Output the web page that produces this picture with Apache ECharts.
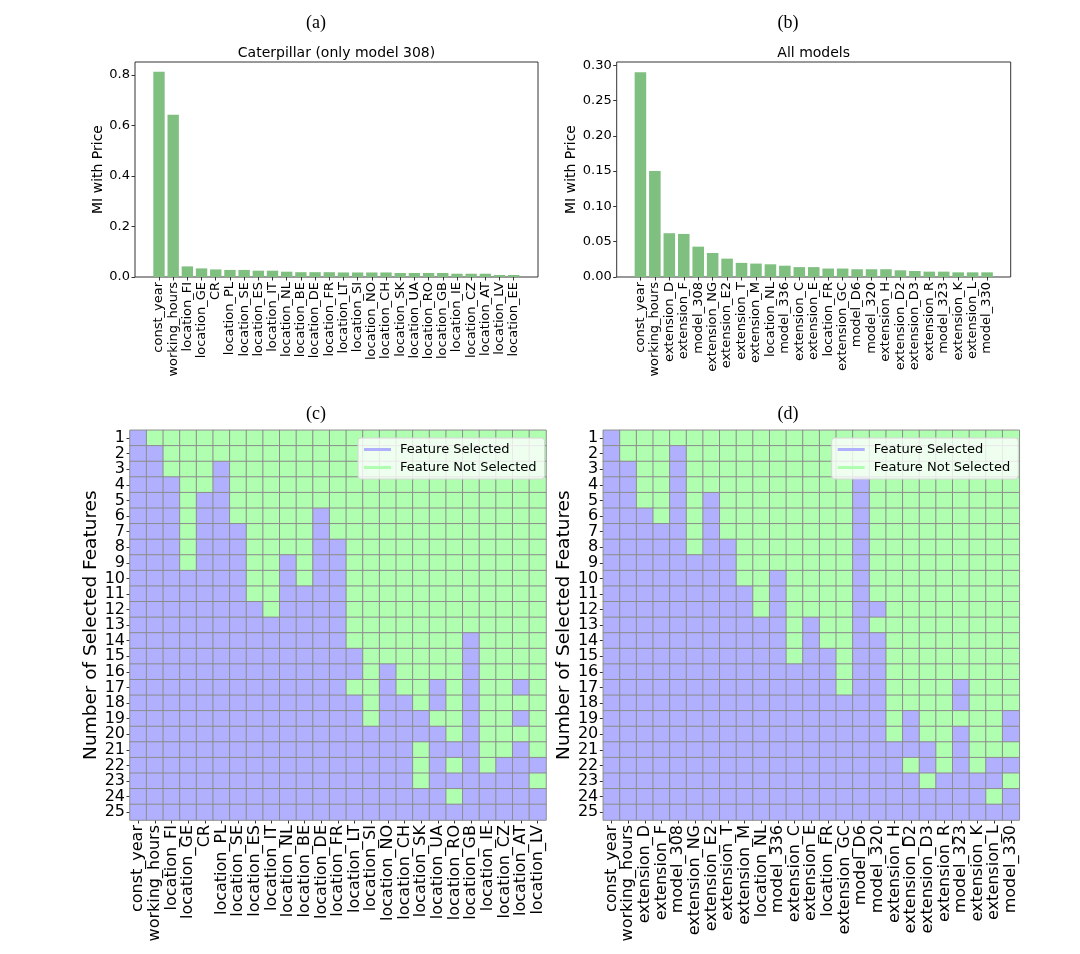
<!DOCTYPE html>
<html>
<head>
<meta charset="utf-8">
<script src="https://cdn.jsdelivr.net/npm/echarts@6/dist/echarts.min.js"></script>
<style>
html,body{margin:0;padding:0;background:#fff;}
#chart{width:1080px;height:954px;}
</style>
</head>
<body>
<div id="chart"></div>
<script>
// ---------- data ----------
const featuresA = ['const_year','working_hours','location_FI','location_GE','CR','location_PL','location_SE','location_ES','location_IT','location_NL','location_BE','location_DE','location_FR','location_LT','location_SI','location_NO','location_CH','location_SK','location_UA','location_RO','location_GB','location_IE','location_CZ','location_AT','location_LV','location_EE'];
const miA = [0.812,0.642,0.042,0.034,0.030,0.028,0.028,0.025,0.025,0.021,0.019,0.019,0.019,0.018,0.018,0.018,0.018,0.016,0.016,0.016,0.016,0.013,0.013,0.013,0.008,0.008];
const yTicksA = [0.0,0.2,0.4,0.6,0.8];

const featuresB = ['const_year','working_hours','extension_D','extension_F','model_308','extension_NG','extension_E2','extension_T','extension_M','location_NL','model_336','extension_C','extension_E','location_FR','extension_GC','model_D6','model_320','extension_H','extension_D2','extension_D3','extension_R','model_323','extension_K','extension_L','model_330'];
const miB = [0.290,0.150,0.062,0.061,0.043,0.034,0.026,0.020,0.019,0.018,0.016,0.014,0.014,0.012,0.012,0.011,0.011,0.011,0.0095,0.0085,0.0076,0.0076,0.0066,0.0066,0.0066];
const yTicksB = [0.00,0.05,0.10,0.15,0.20,0.25,0.30];

const featuresC = ['const_year','working_hours','location_FI','location_GE','CR','location_PL','location_SE','location_ES','location_IT','location_NL','location_BE','location_DE','location_FR','location_LT','location_SI','location_NO','location_CH','location_SK','location_UA','location_RO','location_GB','location_IE','location_CZ','location_AT','location_LV'];
const featuresD = ['const_year','working_hours','extension_D','extension_F','model_308','extension_NG','extension_E2','extension_T','extension_M','location_NL','model_336','extension_C','extension_E','location_FR','extension_GC','model_D6','model_320','extension_H','extension_D2','extension_D3','extension_R','model_323','extension_K','extension_L','model_330'];
const nSelected = ['1','2','3','4','5','6','7','8','9','10','11','12','13','14','15','16','17','18','19','20','21','22','23','24','25'];

// 1 = feature selected, 0 = not selected (row = number of selected features)
const selectedC = [
 '10000 00000 00000 00000 00000',
 '11000 00000 00000 00000 00000',
 '11000 10000 00000 00000 00000',
 '11100 10000 00000 00000 00000',
 '11101 10000 00000 00000 00000',
 '11101 10000 01000 00000 00000',
 '11101 11000 01000 00000 00000',
 '11101 11000 01100 00000 00000',
 '11101 11001 01100 00000 00000',
 '11111 11001 01100 00000 00000',
 '11111 11001 11100 00000 00000',
 '11111 11101 11100 00000 00000',
 '11111 11111 11100 00000 00000',
 '11111 11111 11100 00000 10000',
 '11111 11111 11110 00000 10000',
 '11111 11111 11110 10000 10000',
 '11111 11111 11100 10010 10010',
 '11111 11111 11110 11010 10000',
 '11111 11111 11110 11100 10010',
 '11111 11111 11111 11110 10000',
 '11111 11111 11111 11011 10010',
 '11111 11111 11111 11010 10111',
 '11111 11111 11111 11011 11110',
 '11111 11111 11111 11110 11111',
 '11111 11111 11111 11111 11111'
];
const selectedD = [
 '10000 00000 00000 00000 00000',
 '10001 00000 00000 00000 00000',
 '11001 00000 00000 00000 00000',
 '11001 00000 00000 10000 00000',
 '11001 01000 00000 10000 00000',
 '11101 01000 00000 10000 00000',
 '11111 01000 00000 10000 00000',
 '11111 01100 00000 10000 00000',
 '11111 11100 00000 10000 00000',
 '11111 11100 10000 10000 00000',
 '11111 11110 10000 10000 00000',
 '11111 11110 10000 11000 00000',
 '11111 11111 10100 10000 00000',
 '11111 11111 10100 11000 00000',
 '11111 11111 10110 11000 00000',
 '11111 11111 11110 11000 00000',
 '11111 11111 11110 11000 01000',
 '11111 11111 11111 11000 01000',
 '11111 11111 11111 11010 00001',
 '11111 11111 11111 11010 01001',
 '11111 11111 11111 11111 01000',
 '11111 11111 11111 11101 01011',
 '11111 11111 11111 11110 11110',
 '11111 11111 11111 11111 11101',
 '11111 11111 11111 11111 11111'
];

// ---------- styling ----------
const FONT = 'DejaVu Sans';
const BAR = '#7fbf7f';
const SEL = '#b0b0ff';
const NOTSEL = '#b0ffb0';
const AXC = '#333';

function toCells(rows){
  const out = [];
  rows.forEach((s, r) => {
    s.replace(/\s/g,'').split('').forEach((ch, c) => out.push([c, r, Number(ch)]));
  });
  return out;
}

const chart = echarts.init(document.getElementById('chart'), null, {renderer:'canvas'});

const frameGrid = (l,t,w,h) => ({left:l, top:t, width:w, height:h, show:true, borderColor:AXC, borderWidth:1, backgroundColor:'transparent'});

const barCatAxis = (gi, data) => ({
  type:'category', gridIndex:gi, data:data,
  axisLine:{show:false},
  axisTick:{show:true, alignWithLabel:true, length:3.5, lineStyle:{color:AXC}},
  axisLabel:{rotate:90, interval:0, fontSize:13, fontFamily:FONT, color:'#000', margin:5}
});
const heatCatAxis = (gi, data) => ({
  type:'category', gridIndex:gi, data:data,
  axisLine:{show:false},
  axisTick:{show:true, alignWithLabel:true, length:3.5, lineStyle:{color:AXC}},
  axisLabel:{rotate:90, interval:0, fontSize:16, fontFamily:FONT, color:'#000', margin:5},
  splitLine:{show:false}
});
const heatRowAxis = (gi) => ({
  type:'category', gridIndex:gi, data:nSelected, inverse:true,
  axisLine:{show:false},
  axisTick:{show:true, alignWithLabel:true, length:3.5, lineStyle:{color:AXC}},
  axisLabel:{interval:0, fontSize:16, fontFamily:FONT, color:'#000', margin:5},
  name:'Number of Selected Features', nameLocation:'middle', nameGap:28,
  nameTextStyle:{fontSize:18.5, fontFamily:FONT, color:'#000'}
});

const legendCommon = {
  orient:'vertical', top:438, icon:'rect', itemWidth:27, itemHeight:3, itemGap:5,
  backgroundColor:'rgba(255,255,255,0.8)', borderColor:'#d6d6d6', borderWidth:1, borderRadius:3,
  padding:[5,8,5,6], data:['Feature Selected','Feature Not Selected'],
  textStyle:{fontSize:13, fontFamily:FONT, color:'#000', padding:[0,0,0,4]}, selectedMode:false
};

const option = {
  animation:false,
  backgroundColor:'#fff',
  textStyle:{fontFamily:FONT},
  graphic:[
    {type:'text', x:316, y:23, style:{text:'(a)', align:'center', verticalAlign:'middle', fontSize:18, fontFamily:'Liberation Serif', fill:'#000'}},
    {type:'text', x:788, y:23, style:{text:'(b)', align:'center', verticalAlign:'middle', fontSize:18, fontFamily:'Liberation Serif', fill:'#000'}},
    {type:'text', x:336.5, y:53, style:{text:'Caterpillar (only model 308)', align:'center', verticalAlign:'middle', fontSize:14, fontFamily:FONT, fill:'#000'}},
    {type:'text', x:813.7, y:53, style:{text:'All models', align:'center', verticalAlign:'middle', fontSize:14, fontFamily:FONT, fill:'#000'}},
    {type:'text', x:316, y:414, style:{text:'(c)', align:'center', verticalAlign:'middle', fontSize:18, fontFamily:'Liberation Serif', fill:'#000'}},
    {type:'text', x:788, y:414, style:{text:'(d)', align:'center', verticalAlign:'middle', fontSize:18, fontFamily:'Liberation Serif', fill:'#000'}}
  ],
  grid:[
    frameGrid(135, 62, 403, 215),
    {left:151.9, top:62, width:368.9, height:215},
    frameGrid(616.7, 62, 394, 215),
    {left:633.2, top:62, width:361.1, height:215},
    {left:130, top:430.3, width:416, height:389.7},
    {left:603.3, top:430.3, width:416, height:389.7}
  ],
  xAxis:[
    {type:'value', gridIndex:0, min:0, max:1, show:false},
    barCatAxis(1, featuresA),
    {type:'value', gridIndex:2, min:0, max:1, show:false},
    barCatAxis(3, featuresB),
    heatCatAxis(4, featuresC),
    heatCatAxis(5, featuresD)
  ],
  yAxis:[
    {type:'value', gridIndex:0, min:0, max:0.851,
     axisLine:{show:false}, splitLine:{show:false},
     axisTick:{show:true, length:3.5, lineStyle:{color:AXC}, customValues:yTicksA},
     axisLabel:{fontSize:13, fontFamily:FONT, color:'#000', margin:5, customValues:yTicksA, formatter:v => v.toFixed(1)},
     name:'MI with Price', nameLocation:'middle', nameGap:27.5,
     nameTextStyle:{fontSize:14, fontFamily:FONT, color:'#000'}},
    {type:'value', gridIndex:1, min:0, max:0.851, show:false},
    {type:'value', gridIndex:2, min:0, max:0.3045,
     axisLine:{show:false}, splitLine:{show:false},
     axisTick:{show:true, length:3.5, lineStyle:{color:AXC}, customValues:yTicksB},
     axisLabel:{fontSize:13, fontFamily:FONT, color:'#000', margin:5, customValues:yTicksB, formatter:v => v.toFixed(2)},
     name:'MI with Price', nameLocation:'middle', nameGap:37.5,
     nameTextStyle:{fontSize:14, fontFamily:FONT, color:'#000'}},
    {type:'value', gridIndex:3, min:0, max:0.3045, show:false},
    heatRowAxis(4),
    heatRowAxis(5)
  ],
  visualMap:{type:'piecewise', show:false, seriesIndex:[2,3], dimension:2,
    pieces:[{value:1, color:SEL},{value:0, color:NOTSEL}]},
  legend:[
    Object.assign({left:358}, legendCommon),
    Object.assign({left:831.7}, legendCommon)
  ],
  series:[
    {type:'bar', xAxisIndex:1, yAxisIndex:1, data:miA, barCategoryGap:'20%', itemStyle:{color:BAR}, silent:true},
    {type:'bar', xAxisIndex:3, yAxisIndex:3, data:miB, barCategoryGap:'20%', itemStyle:{color:BAR}, silent:true},
    {type:'heatmap', xAxisIndex:4, yAxisIndex:4, data:toCells(selectedC),
     itemStyle:{borderColor:'#8c8c8c', borderWidth:1}, emphasis:{disabled:true}, silent:true},
    {type:'heatmap', xAxisIndex:5, yAxisIndex:5, data:toCells(selectedD),
     itemStyle:{borderColor:'#8c8c8c', borderWidth:1}, emphasis:{disabled:true}, silent:true},
    {type:'line', name:'Feature Selected', xAxisIndex:4, yAxisIndex:4, data:[], symbol:'none', color:SEL, itemStyle:{color:SEL}, lineStyle:{color:SEL, width:3}},
    {type:'line', name:'Feature Not Selected', xAxisIndex:4, yAxisIndex:4, data:[], symbol:'none', color:NOTSEL, itemStyle:{color:NOTSEL}, lineStyle:{color:NOTSEL, width:3}}
  ]
};
chart.setOption(option);
</script>
</body>
</html>
